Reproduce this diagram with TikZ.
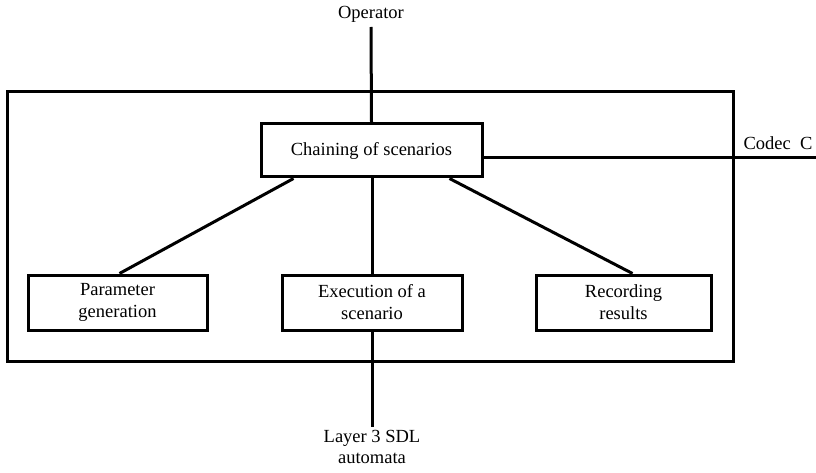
\documentclass[tikz,border=0pt]{standalone}
\usepackage{fontspec}
\setmainfont{Liberation Serif}
\begin{document}
\begin{tikzpicture}[x=1pt,y=-1pt,
  line width=3pt,
  blockbox/.style={draw,line width=3pt,minimum height=53pt,inner sep=0pt,align=center,font=\fontsize{18.5}{22}\selectfont},
  lbl/.style={inner sep=0pt,align=center,font=\fontsize{18.5}{21}\selectfont}]
\useasboundingbox (0,0) rectangle (816,473);
% enclosing frame
\draw (7,92) rectangle (733,361);
% blocks
\node[blockbox,minimum width=221pt] (chain) at (371.5,150.5) {Chaining of scenarios};
\node[blockbox,minimum width=179pt,minimum height=55pt] (param) at (117.5,302.5) {Parameter\\generation};
\node[blockbox,minimum width=180pt,minimum height=55pt] (exec) at (372,302.5) {Execution of a\\scenario};
\node[blockbox,minimum width=175pt,minimum height=55pt] (rec) at (623.5,302.5) {Recording\\results};
% external labels
\node[lbl] (op) at (371,14) {Operator};
\node[lbl] (codec) at (778,143) {Codec\ \ C};
\node[lbl] (sdl) at (372,447) {Layer 3 SDL\\automata};
\coordinate (optop) at (371,27);
\coordinate (codecend) at (816,158);
\coordinate (sdlend) at (372,427);
% connectors
\draw (optop) -- (chain.north);
\draw (chain.east |- codecend) -- (codecend);
\draw (chain.south -| exec.north) -- (exec.north);
\draw ([xshift=-78pt]chain.south) -- ([xshift=2pt]param.north);
\draw ([xshift=78pt]chain.south) -- ([xshift=9pt]rec.north);
\draw (exec.south) -- (sdlend);
\end{tikzpicture}
\end{document}
